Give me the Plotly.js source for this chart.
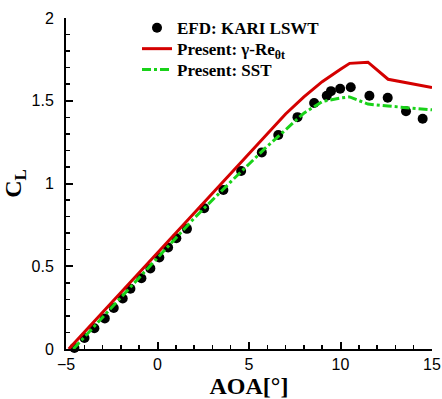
<!DOCTYPE html>
<html>
<head>
<meta charset="utf-8">
<script src="https://cdn.plot.ly/plotly-3.0.1.min.js"></script>
<style>html,body{margin:0;padding:0;background:#fff;}#chart{width:442px;height:399px;}</style>
</head>
<body>
<div id="chart"></div>
<script>
// EFD: KARI LSWT (experiment)
const efdAoa = [-4.54,-3.99,-3.45,-2.88,-2.39,-1.9,-1.48,-0.88,-0.39,0.1,0.58,1.03,1.61,2.55,3.6,4.57,5.7,6.6,7.65,8.56,9.25,9.48,9.98,10.56,11.58,12.58,13.58,14.49];
const efdCl  = [0.006,0.066,0.125,0.185,0.248,0.305,0.364,0.428,0.487,0.553,0.613,0.669,0.726,0.851,0.961,1.076,1.188,1.293,1.401,1.486,1.53,1.558,1.573,1.582,1.53,1.518,1.437,1.391];
// Present: gamma-Re_theta_t
const gamAoa = [-4.85,-2,0,2,4,6,7,8,9,10,10.5,11.5,12.6,15];
const gamCl  = [0,0.34,0.584,0.823,1.062,1.30,1.42,1.523,1.615,1.69,1.726,1.733,1.63,1.58];
// Present: SST
const sstAoa = [-4.6,-2,0,2,4,6,7,8,9,10,10.5,11.5,12.6,15];
const sstCl  = [0,0.31,0.548,0.79,1.01,1.225,1.325,1.425,1.495,1.517,1.523,1.48,1.468,1.445];

const serif = '"Liberation Serif","Times New Roman",serif';
const sans = '"Liberation Sans",Arial,sans-serif';
const legFont = {family: serif, size: 17, color: '#000', weight: 'bold'};

const traces = [
  {x: efdAoa, y: efdCl, type: 'scatter', mode: 'markers', name: 'EFD: KARI LSWT', legend: 'legend',
   marker: {color: '#000', size: 10, symbol: 'circle'}, cliponaxis: false},
  {x: gamAoa, y: gamCl, type: 'scatter', mode: 'lines', name: 'Present: γ-Re<sub>θt</sub>', legend: 'legend2',
   line: {color: '#d40000', width: 3}},
  {x: sstAoa, y: sstCl, type: 'scatter', mode: 'lines', name: 'Present: SST', legend: 'legend3',
   line: {color: '#19d219', width: 3, dash: '9px,3px,3px,3px'}}
];

const legBase = {x: 0.194, xanchor: 'left', yanchor: 'middle', bgcolor: 'rgba(0,0,0,0)', borderwidth: 0, font: legFont};

const layout = {
  width: 442, height: 399,
  margin: {l: 65.5, r: 10, t: 14, b: 50},
  paper_bgcolor: '#fff', plot_bgcolor: '#fff',
  showlegend: true,
  legend: Object.assign({}, legBase, {y: 0.969}),
  legend2: Object.assign({}, legBase, {y: 0.906}),
  legend3: Object.assign({}, legBase, {y: 0.843}),
  xaxis: {range: [-5, 15], dtick: 5, tick0: 0, showgrid: false, zeroline: false,
          showline: true, linecolor: '#000', linewidth: 2,
          ticks: 'inside', ticklen: 7, tickwidth: 2, tickcolor: '#000',
          minor: {dtick: 1, ticks: 'inside', ticklen: 4, tickwidth: 1.5, tickcolor: '#000', showgrid: false},
          tickfont: {family: sans, size: 16, color: '#000'},
          title: {text: 'AOA[°]', font: {family: serif, size: 24, color: '#000', weight: 'bold'}, standoff: 8}},
  yaxis: {range: [0, 2], dtick: 0.5, tick0: 0, showgrid: false, zeroline: false,
          showline: true, linecolor: '#000', linewidth: 2,
          ticks: 'inside', ticklen: 7, tickwidth: 2, tickcolor: '#000', ticklabelstandoff: 7,
          minor: {dtick: 0.1, ticks: 'inside', ticklen: 4, tickwidth: 1.5, tickcolor: '#000', showgrid: false},
          tickfont: {family: sans, size: 16, color: '#000'},
          title: {text: 'C<sub>L</sub>', font: {family: serif, size: 24, color: '#000', weight: 'bold'}, standoff: 5}}
};

Plotly.newPlot('chart', traces, layout, {staticPlot: true, displayModeBar: false});
</script>
</body>
</html>
